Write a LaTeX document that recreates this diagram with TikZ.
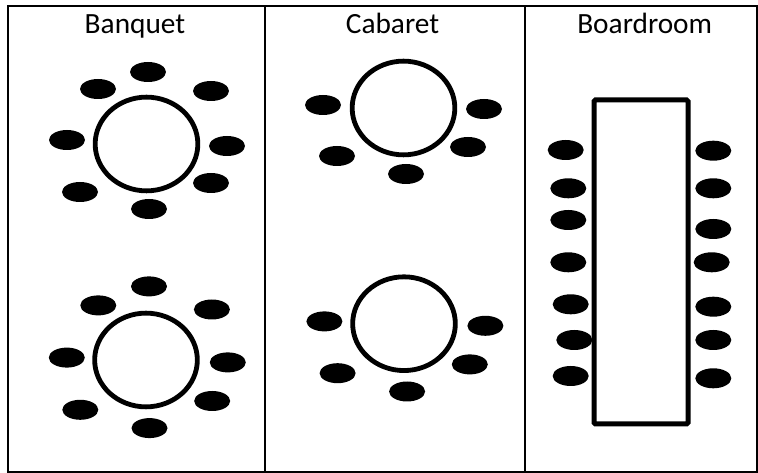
\documentclass[tikz,border=0pt]{standalone}
\usepackage{fontspec}
\setmainfont{Carlito}
\usetikzlibrary{shapes.geometric}
\tikzset{
  seat/.style       = {shape=ellipse, fill=black, inner sep=0pt,
                       minimum width=27pt, minimum height=15pt},
  roundtable/.style = {shape=ellipse, draw, line width=3.6pt, inner sep=0pt,
                       minimum width=77pt, minimum height=70.3pt},
  longtable/.style  = {shape=rectangle, draw, line width=3.75pt, inner sep=0pt,
                       rounded corners=1pt, minimum width=70.5pt, minimum height=243pt},
  frame/.style      = {draw, line width=1.5pt},
  layout/.style     = {anchor=base, font=\fontsize{22}{26}\selectfont}
}
\begin{document}
\begin{tikzpicture}[x=0.75pt, y=-0.75pt]
  \useasboundingbox (0,0) rectangle (758,473);

  % frame and columns
  \draw[frame] (8.3,5.8) rectangle (757,472);
  \draw[frame] (265.3,5.8) -- (265.3,472);
  \draw[frame] (524.5,5.8) -- (524.5,472);

  \node[layout] (banquet)   at (135,33.3)  {Banquet};
  \node[layout] (cabaret)   at (392.5,34)  {Cabaret};
  \node[layout] (boardroom) at (644.7,34)  {Boardroom};

  % banquet
  \node[roundtable] (bqA) at (146.5,144) {};
  \node[seat] (bqA1) at (148,72) {};
  \node[seat] (bqA2) at (98,89) {};
  \node[seat] (bqA3) at (211,91) {};
  \node[seat] (bqA4) at (67,140) {};
  \node[seat] (bqA5) at (227,146) {};
  \node[seat] (bqA6) at (80,192) {};
  \node[seat] (bqA7) at (211,183) {};
  \node[seat] (bqA8) at (149,209) {};

  \node[roundtable] (bqB) at (146,360) {};
  \node[seat] (bqB1) at (149,286.4) {};
  \node[seat] (bqB2) at (98.3,305.4) {};
  \node[seat] (bqB3) at (211.9,309.5) {};
  \node[seat] (bqB4) at (66.8,357.6) {};
  \node[seat] (bqB5) at (227.8,362.4) {};
  \node[seat] (bqB6) at (80.3,409.8) {};
  \node[seat] (bqB7) at (212.2,401) {};
  \node[seat] (bqB8) at (149.5,428.1) {};

  % cabaret
  \node[roundtable] (cbA) at (403.5,108) {};
  \node[seat] (cbA1) at (323,105) {};
  \node[seat] (cbA2) at (484,109) {};
  \node[seat] (cbA3) at (337,156) {};
  \node[seat] (cbA4) at (468,147) {};
  \node[seat] (cbA5) at (406,174) {};

  \node[roundtable] (cbB) at (404,323.7) {};
  \node[seat] (cbB1) at (324.4,321.4) {};
  \node[seat] (cbB2) at (485.4,325.8) {};
  \node[seat] (cbB3) at (337.6,373.2) {};
  \node[seat] (cbB4) at (469.8,364.4) {};
  \node[seat] (cbB5) at (407.1,391.5) {};

  % boardroom
  \node[longtable] (br) at (641,262) {};
  \node[seat] (brL1) at (565.7,150) {};
  \node[seat] (brL2) at (568.3,188.3) {};
  \node[seat] (brL3) at (568.3,220) {};
  \node[seat] (brL4) at (568.3,262.3) {};
  \node[seat] (brL5) at (570.7,304.3) {};
  \node[seat] (brL6) at (574.3,340) {};
  \node[seat] (brL7) at (570.7,376) {};
  \node[seat] (brR1) at (713.3,150.7) {};
  \node[seat] (brR2) at (713.3,188.3) {};
  \node[seat] (brR3) at (713.3,229) {};
  \node[seat] (brR4) at (711.7,262.3) {};
  \node[seat] (brR5) at (713.3,306.7) {};
  \node[seat] (brR6) at (713.3,340) {};
  \node[seat] (brR7) at (713.3,378.3) {};
\end{tikzpicture}
\end{document}
